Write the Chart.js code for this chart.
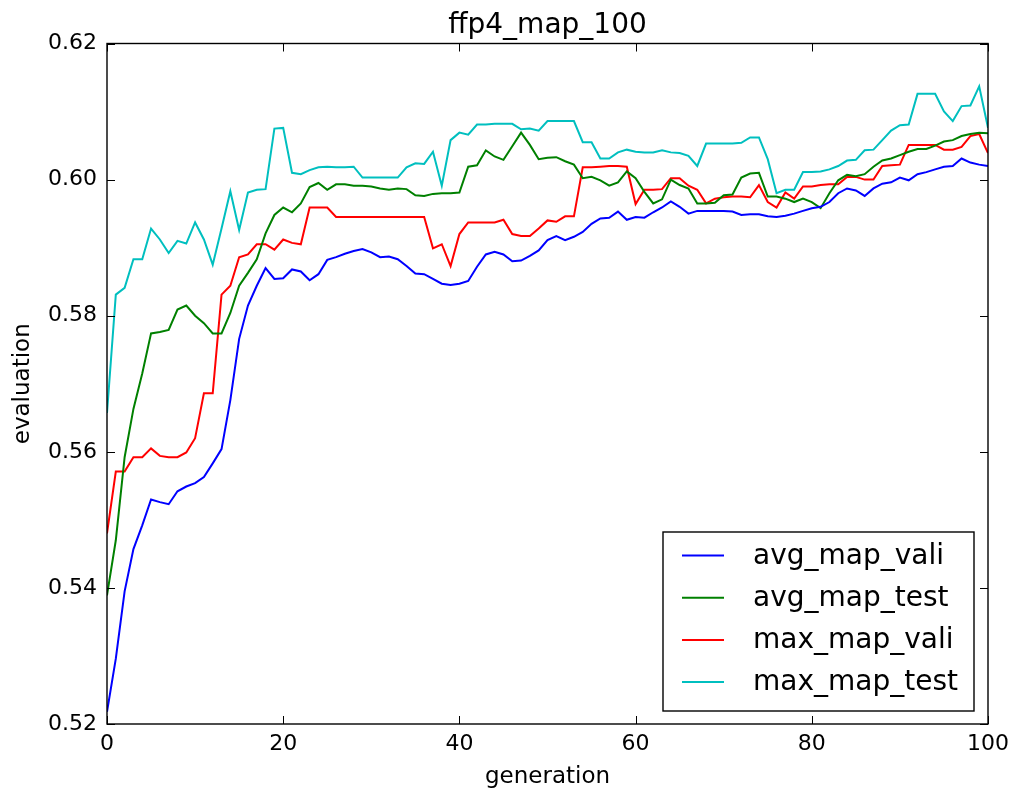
<!DOCTYPE html>
<html>
<head>
<meta charset="utf-8">
<script src="https://cdn.jsdelivr.net/npm/chart.js@4.4.1/dist/chart.umd.min.js"></script>
<style>
html,body{margin:0;padding:0;background:#fff;}
#wrap{width:1016px;height:799px;}
</style>
</head>
<body>
<div id="wrap"><canvas id="c" width="1016" height="799"></canvas></div>
<script>
const chartTitle = 'ffp4_map_100';
const xAxisTitle = 'generation';
const yAxisTitle = 'evaluation';
const generations = [0,1,2,3,4,5,6,7,8,9,10,11,12,13,14,15,16,17,18,19,20,21,22,23,24,25,26,27,28,29,30,31,32,33,34,35,36,37,38,39,40,41,42,43,44,45,46,47,48,49,50,51,52,53,54,55,56,57,58,59,60,61,62,63,64,65,66,67,68,69,70,71,72,73,74,75,76,77,78,79,80,81,82,83,84,85,86,87,88,89,90,91,92,93,94,95,96,97,98,99,100];
const seriesNames = ['avg_map_vali','avg_map_test','max_map_vali','max_map_test'];
const avgMapVali = [0.5218,0.5296,0.5395,0.5457,0.5492,0.5530,0.5526,0.5523,0.5542,0.5549,0.5554,0.5563,0.5583,0.5604,0.5676,0.5766,0.5815,0.5844,0.5870,0.5854,0.5855,0.5868,0.5865,0.5852,0.5861,0.5882,0.5886,0.5891,0.5895,0.5898,0.5893,0.5886,0.5887,0.5883,0.5873,0.5862,0.5861,0.5854,0.5847,0.5845,0.5847,0.5851,0.5872,0.5890,0.5894,0.5890,0.5880,0.5881,0.5888,0.5896,0.5911,0.5917,0.5911,0.5916,0.5923,0.5935,0.5943,0.5944,0.5953,0.5941,0.5945,0.5944,0.5952,0.5959,0.5968,0.5960,0.5950,0.5954,0.5954,0.5954,0.5954,0.5953,0.5948,0.5949,0.5949,0.5946,0.5945,0.5947,0.5950,0.5954,0.5958,0.5960,0.5967,0.5980,0.5987,0.5984,0.5976,0.5987,0.5994,0.5996,0.6003,0.5999,0.6008,0.6011,0.6015,0.6019,0.6020,0.6031,0.6025,0.6022,0.6020];
const avgMapTest = [0.5389,0.5470,0.5592,0.5663,0.5715,0.5774,0.5776,0.5779,0.5809,0.5815,0.5800,0.5789,0.5774,0.5774,0.5804,0.5844,0.5863,0.5883,0.5921,0.5948,0.5959,0.5952,0.5965,0.5989,0.5995,0.5985,0.5993,0.5993,0.5991,0.5991,0.5990,0.5987,0.5985,0.5987,0.5986,0.5977,0.5976,0.5979,0.5980,0.5980,0.5981,0.6019,0.6021,0.6043,0.6034,0.6029,0.6049,0.6069,0.6051,0.6030,0.6032,0.6033,0.6027,0.6022,0.6002,0.6004,0.5999,0.5991,0.5996,0.6012,0.6002,0.5982,0.5965,0.5971,0.6000,0.5992,0.5987,0.5965,0.5965,0.5966,0.5977,0.5978,0.6003,0.6009,0.6010,0.5975,0.5975,0.5972,0.5967,0.5972,0.5967,0.5958,0.5980,0.5999,0.6007,0.6005,0.6008,0.6019,0.6028,0.6031,0.6036,0.6041,0.6045,0.6045,0.6050,0.6056,0.6058,0.6064,0.6067,0.6069,0.6068];
const maxMapVali = [0.5480,0.5571,0.5571,0.5592,0.5592,0.5605,0.5594,0.5592,0.5592,0.5599,0.5620,0.5686,0.5686,0.5831,0.5844,0.5886,0.5890,0.5905,0.5905,0.5897,0.5912,0.5907,0.5905,0.5959,0.5959,0.5959,0.5945,0.5945,0.5945,0.5945,0.5945,0.5945,0.5945,0.5945,0.5945,0.5945,0.5945,0.5899,0.5905,0.5873,0.5920,0.5937,0.5937,0.5937,0.5937,0.5941,0.5920,0.5917,0.5917,0.5928,0.5940,0.5938,0.5946,0.5946,0.6018,0.6018,0.6019,0.6020,0.6020,0.6019,0.5964,0.5985,0.5985,0.5986,0.6002,0.6002,0.5991,0.5985,0.5965,0.5972,0.5974,0.5975,0.5975,0.5974,0.5992,0.5967,0.5959,0.5981,0.5972,0.5990,0.5990,0.5992,0.5993,0.5993,0.6004,0.6004,0.6000,0.6000,0.6020,0.6021,0.6022,0.6051,0.6051,0.6051,0.6051,0.6044,0.6044,0.6048,0.6064,0.6067,0.6039];
const maxMapTest = [0.5657,0.5831,0.5841,0.5883,0.5883,0.5928,0.5912,0.5892,0.5910,0.5906,0.5937,0.5912,0.5875,0.5928,0.5983,0.5926,0.5981,0.5985,0.5986,0.6075,0.6076,0.6010,0.6008,0.6014,0.6018,0.6019,0.6018,0.6018,0.6019,0.6003,0.6003,0.6003,0.6003,0.6003,0.6018,0.6024,0.6023,0.6041,0.5991,0.6058,0.6069,0.6066,0.6081,0.6081,0.6082,0.6082,0.6082,0.6074,0.6075,0.6072,0.6086,0.6086,0.6086,0.6086,0.6055,0.6055,0.6031,0.6031,0.6040,0.6044,0.6041,0.6040,0.6040,0.6043,0.6040,0.6039,0.6035,0.6020,0.6053,0.6053,0.6053,0.6053,0.6054,0.6062,0.6062,0.6030,0.5980,0.5985,0.5985,0.6011,0.6011,0.6012,0.6015,0.6020,0.6028,0.6029,0.6043,0.6044,0.6058,0.6072,0.6080,0.6081,0.6126,0.6126,0.6126,0.6100,0.6086,0.6108,0.6109,0.6137,0.6076];
const xTickValues = [0,20,40,60,80,100];
const xTickLabels = ['0','20','40','60','80','100'];
const yTickValues = [0.52,0.54,0.56,0.58,0.60,0.62];
const yTickLabels = ['0.52','0.54','0.56','0.58','0.60','0.62'];
const seriesColors = ['#0000ff','#008000','#ff0000','#00bfbf'];

const FONT = 'DejaVu Sans';
const seriesValues = [avgMapVali, avgMapTest, maxMapVali, maxMapTest];

const datasets = seriesNames.map((name, s) => ({
  label: name,
  data: generations.map((g, i) => ({x: g, y: seriesValues[s][i]})),
  borderColor: seriesColors[s],
  backgroundColor: seriesColors[s],
  borderWidth: 2,
  pointRadius: 0,
  tension: 0,
  fill: false
}));

const decorPlugin = {
  id: 'decor',
  afterDatasetsDraw(chart) {
    const ctx = chart.ctx;
    const a = chart.chartArea;
    const xs = chart.scales.x, ys = chart.scales.y;
    ctx.save();
    ctx.strokeStyle = '#000';
    ctx.lineWidth = 1;
    const tl = 8;
    xs.ticks.forEach(t => {
      const px = Math.round(xs.getPixelForValue(t.value)) + 0.5;
      ctx.beginPath();
      ctx.moveTo(px, a.bottom); ctx.lineTo(px, a.bottom - tl);
      ctx.moveTo(px, a.top); ctx.lineTo(px, a.top + tl);
      ctx.stroke();
    });
    ys.ticks.forEach(t => {
      const py = Math.round(ys.getPixelForValue(t.value)) + 0.5;
      ctx.beginPath();
      ctx.moveTo(a.left, py); ctx.lineTo(a.left + tl, py);
      ctx.moveTo(a.right, py); ctx.lineTo(a.right - tl, py);
      ctx.stroke();
    });
    ctx.lineWidth = 1.4;
    ctx.strokeRect(a.left, a.top, a.right - a.left, a.bottom - a.top);
    ctx.fillStyle = '#000';
    ctx.font = '28px "' + FONT + '"';
    ctx.textAlign = 'center';
    ctx.textBaseline = 'alphabetic';
    ctx.fillText(chartTitle, (a.left + a.right) / 2, 33);
    const bw = 311, bh = 179;
    const bx = a.right - 14 - bw, by = a.bottom - 13 - bh;
    ctx.fillStyle = '#fff';
    ctx.fillRect(bx, by, bw, bh);
    ctx.strokeStyle = '#000';
    ctx.lineWidth = 1.4;
    ctx.strokeRect(bx, by, bw, bh);
    ctx.font = '28px "' + FONT + '"';
    ctx.textAlign = 'left';
    ctx.textBaseline = 'middle';
    chart.data.datasets.forEach((d, i) => {
      const ry = by + 23.5 + i * 42.2;
      ctx.strokeStyle = d.borderColor;
      ctx.lineWidth = 2;
      ctx.beginPath();
      ctx.moveTo(bx + 19, ry); ctx.lineTo(bx + 61, ry);
      ctx.stroke();
      ctx.fillStyle = '#000';
      ctx.fillText(d.label, bx + 90, ry + 1);
    });
    ctx.restore();
  }
};

new Chart(document.getElementById('c'), {
  type: 'line',
  data: { datasets },
  options: {
    responsive: false,
    animation: false,
    layout: { padding: { top: 43.5, right: 28, left: 0, bottom: 0 } },
    plugins: { legend: { display: false }, title: { display: false }, tooltip: { enabled: false } },
    scales: {
      x: {
        type: 'linear', min: 0, max: 100,
        afterFit: s => { s.height = 75; },
        afterBuildTicks: s => { s.ticks = xTickValues.map(v => ({value: v})); },
        grid: { display: false, drawTicks: false },
        border: { display: false },
        ticks: {
          padding: 7, color: '#000', maxRotation: 0,
          font: { family: FONT, size: 22 },
          callback: (v) => xTickLabels[xTickValues.indexOf(v)]
        },
        title: { display: true, text: xAxisTitle, color: '#000', font: { family: FONT, size: 23 }, padding: { top: 0, bottom: 8 } }
      },
      y: {
        type: 'linear', min: 0.52, max: 0.62,
        afterFit: s => { s.width = 107; },
        afterBuildTicks: s => { s.ticks = yTickValues.map(v => ({value: v})); },
        grid: { display: false, drawTicks: false },
        border: { display: false },
        ticks: {
          padding: 10, color: '#000',
          font: { family: FONT, size: 22 },
          callback: (v) => {
            const i = yTickValues.findIndex(t => Math.abs(t - v) < 1e-9);
            return i >= 0 ? yTickLabels[i] : '';
          }
        },
        title: { display: true, text: yAxisTitle, color: '#000', font: { family: FONT, size: 23 }, padding: { top: 9, bottom: 0 } }
      }
    }
  },
  plugins: [decorPlugin]
});
</script>
</body>
</html>
